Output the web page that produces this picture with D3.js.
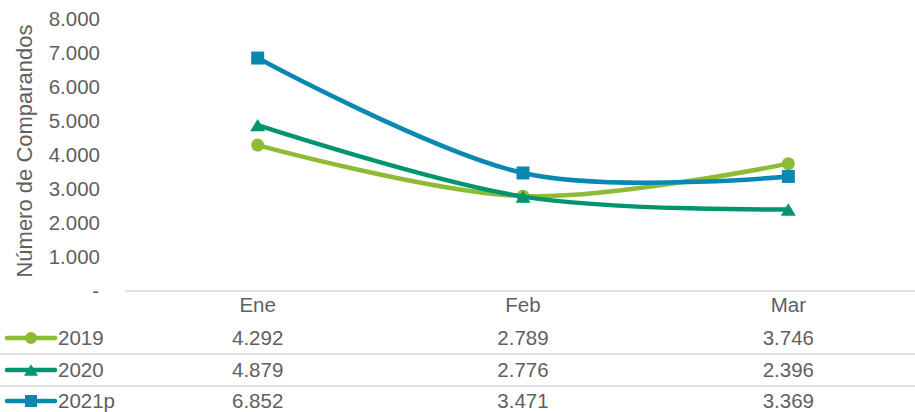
<!DOCTYPE html>
<html>
<head>
<meta charset="utf-8">
<script src="https://cdn.jsdelivr.net/npm/d3@7"></script>
<style>
  body { margin: 0; background: #fff; }
  text { font-family: "Liberation Sans", Arial, sans-serif; fill: #5f5f5f; }
</style>
</head>
<body>
<div id="chart"></div>
<script>
var months = ["Ene", "Feb", "Mar"];
var seriesNames = ["2019", "2020", "2021p"];
var values2019 = [4292, 2789, 3746];
var values2020 = [4879, 2776, 2396];
var values2021 = [6852, 3471, 3369];
var colors = ["#8dbb33", "#00956f", "#0b88b2"];
var markers = ["circle", "triangle", "square"];
var yTicks = [0, 1000, 2000, 3000, 4000, 5000, 6000, 7000, 8000];

var series = seriesNames.map(function (name, i) {
  return { name: name, values: [values2019, values2020, values2021][i], color: colors[i], marker: markers[i] };
});

var width = 915, height = 412;
var fontSize = 20.5;

var svg = d3.select("#chart").append("svg")
  .attr("width", width)
  .attr("height", height);

var x = d3.scaleBand().domain(months).range([125, 921]);
var y = d3.scaleLinear().domain([0, 8000]).range([291, 19]);

// format like 4.292
function fmt(v) {
  if (v === 0) return "-";
  return d3.format(",")(v).replace(/,/g, ".");
}

// y tick labels
svg.append("g").selectAll("text")
  .data(yTicks)
  .join("text")
  .attr("x", d => d === 0 ? 99 : 100)
  .attr("y", d => y(d))
  .attr("dy", "0.35em")
  .attr("text-anchor", "end")
  .style("font-size", fontSize + "px")
  .text(fmt);

// y title
svg.append("text")
  .attr("transform", "translate(32,151) rotate(-90)")
  .attr("text-anchor", "middle")
  .style("font-size", "22px")
  .text("Número de Comparandos");

// axis line
svg.append("line")
  .attr("x1", 125).attr("x2", width)
  .attr("y1", y(0)).attr("y2", y(0))
  .attr("stroke", "#d9d9d9").attr("stroke-width", 1.5);

// table header
svg.append("g").selectAll("text")
  .data(months)
  .join("text")
  .attr("x", d => x(d) + x.bandwidth() / 2)
  .attr("y", 305)
  .attr("dy", "0.35em")
  .attr("text-anchor", "middle")
  .style("font-size", fontSize + "px")
  .text(d => d);

var rowY = [338, 370, 401];

// row separators
svg.append("g").selectAll("line")
  .data([354, 386])
  .join("line")
  .attr("x1", 0).attr("x2", width)
  .attr("y1", d => d).attr("y2", d => d)
  .attr("stroke", "#d9d9d9").attr("stroke-width", 1.5);

function drawMarker(g, type, cx, cy, color, s) {
  if (type === "circle") {
    g.append("circle").attr("cx", cx).attr("cy", cy).attr("r", s / 2).attr("fill", color);
  } else if (type === "square") {
    g.append("rect").attr("x", cx - s / 2).attr("y", cy - s / 2)
      .attr("width", s).attr("height", s).attr("fill", color);
  } else {
    var h = s * 0.95;
    g.append("path")
      .attr("d", "M" + cx + "," + (cy - h / 2) + "L" + (cx + s / 2 + 1) + "," + (cy + h / 2) + "L" + (cx - s / 2 - 1) + "," + (cy + h / 2) + "Z")
      .attr("fill", color);
  }
}

// table rows with legend keys
series.forEach(function (s, i) {
  var g = svg.append("g");
  g.append("line")
    .attr("x1", 7).attr("x2", 55)
    .attr("y1", rowY[i]).attr("y2", rowY[i])
    .attr("stroke", s.color).attr("stroke-width", 4.5)
    .attr("stroke-linecap", "round");
  drawMarker(g, s.marker, 31, rowY[i], s.color, 12);
  g.append("text")
    .attr("x", 58).attr("y", rowY[i]).attr("dy", "0.35em")
    .style("font-size", fontSize + "px")
    .text(s.name);
  g.selectAll("text.val")
    .data(s.values)
    .join("text")
    .attr("class", "val")
    .attr("x", (d, j) => x(months[j]) + x.bandwidth() / 2)
    .attr("y", rowY[i]).attr("dy", "0.35em")
    .attr("text-anchor", "middle")
    .style("font-size", fontSize + "px")
    .text(fmt);
});

// lines
var line = d3.line()
  .x((d, j) => x(months[j]) + x.bandwidth() / 2)
  .y(d => y(d))
  .curve(d3.curveCardinal.tension(0));

series.forEach(function (s) {
  svg.append("path")
    .datum(s.values)
    .attr("d", line)
    .attr("fill", "none")
    .attr("stroke", s.color)
    .attr("stroke-width", 4.5)
    .attr("stroke-linecap", "round");
  var g = svg.append("g");
  s.values.forEach(function (v, j) {
    drawMarker(g, s.marker, x(months[j]) + x.bandwidth() / 2, y(v), s.color, 13);
  });
});
</script>
</body>
</html>
